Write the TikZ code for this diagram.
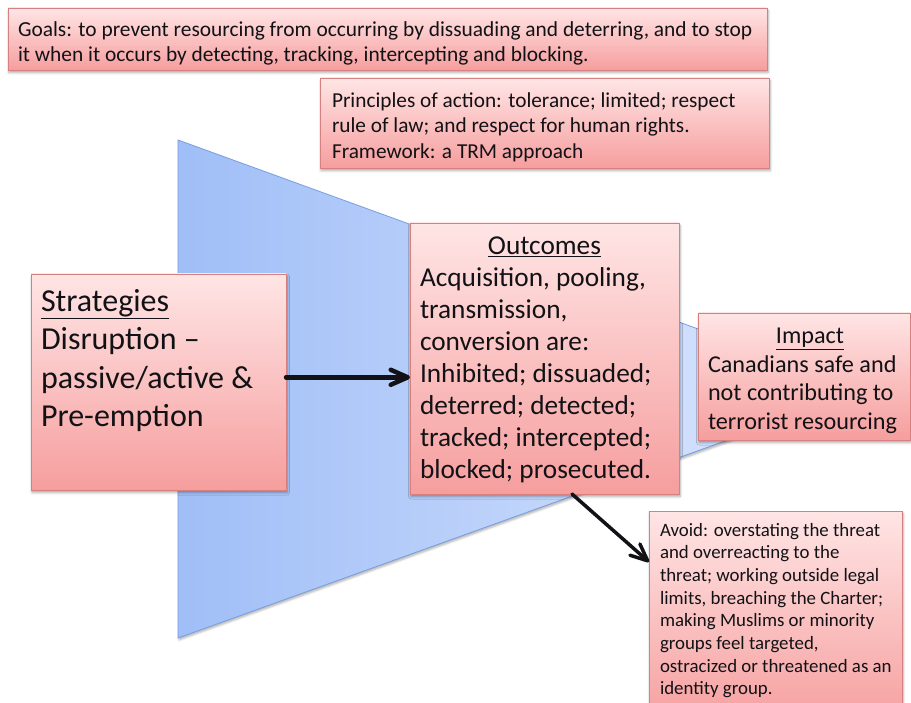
\documentclass[tikz,border=0pt]{standalone}
\usepackage{fontspec}
\setmainfont{Carlito}
\usetikzlibrary{arrows.meta,shadows.blur}
\definecolor{pinkTop}{RGB}{255,229,229}
\definecolor{pinkBot}{RGB}{246,158,158}
\definecolor{pinkEdge}{RGB}{214,128,128}
\definecolor{blueL}{RGB}{160,190,247}
\definecolor{blueR}{RGB}{216,229,253}
\definecolor{blueEdge}{RGB}{120,158,226}
\definecolor{inkcol}{RGB}{18,18,22}
\begin{document}
\begin{tikzpicture}[x=1pt,y=-1pt,
  box/.style={draw=pinkEdge, line width=0.8pt, top color=pinkTop, bottom color=pinkBot,
    inner sep=0pt, outer sep=0pt, anchor=north west,
    blur shadow={shadow xshift=1pt, shadow yshift=-2.5pt, shadow blur radius=2.5pt, shadow opacity=35}},
  txt/.style={inner sep=0pt, outer sep=0pt, anchor=base west, text=inkcol},
  conn/.style={draw=inkcol, line cap=round,
    -{Straight Barb[length=17pt, width=15pt, line cap=round, line join=round]}}
]
\useasboundingbox (0,0) rectangle (911,703);

% funnel
\path[draw=blueEdge, line width=0.8pt, left color=blueL, right color=blueR,
  blur shadow={shadow xshift=1pt, shadow yshift=-2pt, shadow blur radius=2pt, shadow opacity=30}]
  (178,140) -- (800,366) -- (800,414) -- (178,638) -- cycle;

% boxes
\node[box, minimum width=759pt, minimum height=62pt] (goals) at (8,8) {};
\node[box, minimum width=449pt, minimum height=90pt] (princ) at (320,78) {};
\node[box, minimum width=255pt, minimum height=216pt] (strat) at (31,274) {};
\node[box, minimum width=269pt, minimum height=271pt] (out) at (410,223) {};
\node[box, minimum width=212pt, minimum height=127pt] (imp) at (698,313) {};
\node[box, minimum width=253pt, minimum height=215pt] (avoid) at (649,511) {};

% texts
\node[txt] (goalsT) at (18,37) {\parbox[t]{800pt}{\fontsize{21.4}{25}\selectfont
  Goals: to prevent resourcing from occurring by dissuading and deterring, and to stop\\
  it when it occurs by detecting, tracking, intercepting and blocking.}};

\node[txt] (princT) at (332,107.3) {\parbox[t]{460pt}{\fontsize{21.3}{25.5}\selectfont
  Principles of action: tolerance; limited; respect\\
  rule of law; and respect for human rights.\\
  Framework: a TRM approach}};

\node[txt] (stratT) at (41,311.7) {\parbox[t]{270pt}{\fontsize{32}{38.3}\selectfont
  \underline{Strategies}\\
  Disruption –\\
  passive/active \&\\
  Pre-emption}};

\node[txt] (outT) at (420,255) {\parbox[t]{249pt}{\fontsize{27.3}{31.9}\selectfont
  {\centering\underline{Outcomes}\par}
  \raggedright
  Acquisition, pooling,\\
  transmission,\\
  conversion are:\\
  Inhibited; dissuaded;\\
  deterred; detected;\\
  tracked; intercepted;\\
  blocked; prosecuted.}};

\node[txt] (impT) at (708,344) {\parbox[t]{204pt}{\fontsize{24.2}{28.4}\selectfont
  {\centering\underline{Impact}\par}
  \raggedright
  Canadians safe and\\
  not contributing to\\
  terrorist resourcing}};

\node[txt] (avoidT) at (660,536) {\parbox[t]{260pt}{\fontsize{18.85}{22.7}\selectfont
  Avoid: overstating the threat\\
  and overreacting to the\\
  threat; working outside legal\\
  limits, breaching the Charter;\\
  making Muslims or minority\\
  groups feel targeted,\\
  ostracized or threatened as an\\
  identity group.}};

% connectors
\draw[conn, line width=4.5pt] ([yshift=4.7pt]strat.east) -- ([yshift=4.7pt]strat.east -| out.west);
\draw[conn, line width=3.5pt] ([xshift=27.5pt]out.south) -- ([yshift=-51pt]avoid.north west);
\end{tikzpicture}
\end{document}
